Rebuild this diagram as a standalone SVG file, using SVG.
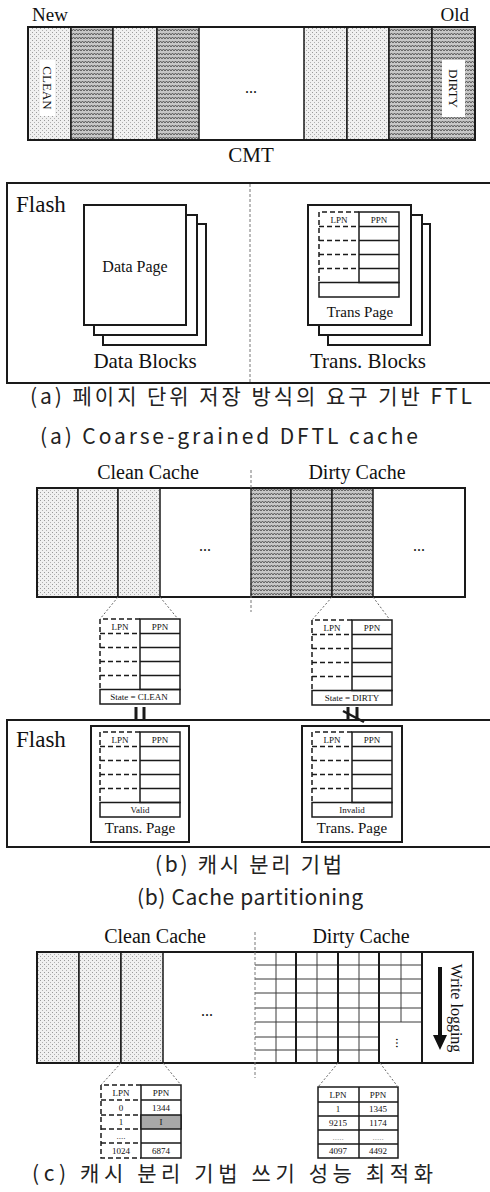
<svg xmlns="http://www.w3.org/2000/svg" xmlns:xlink="http://www.w3.org/1999/xlink" width="490" height="1192" viewBox="0 0 490 1192">
<style>
.t{font-family:"Liberation Serif",serif;fill:#111}
.k{font-family:"Noto Sans CJK KR","Noto Sans",sans-serif;fill:#222}
.box{fill:#fff;stroke:#1a1a1a;stroke-width:2}
.fr{fill:none;stroke:#1a1a1a;stroke-width:2}
.ln{fill:none;stroke:#1a1a1a;stroke-width:1.5}
.dsh{fill:none;stroke:#1a1a1a;stroke-width:1.5;stroke-dasharray:5 3}
.cd{fill:url(#dots);stroke:#1a1a1a;stroke-width:1.5}
.cw{fill:url(#wave);stroke:#1a1a1a;stroke-width:1.5}
.dv{stroke:#777;stroke-width:1;stroke-dasharray:3 2;fill:none}
.zm{stroke:#666;stroke-width:1;stroke-dasharray:2 2;fill:none}
.gl{stroke:#3a3a3a;stroke-width:1;fill:none}
.gt{stroke:#1a1a1a;stroke-width:2;fill:none}
</style>
<defs>
<pattern id="dots" width="4" height="4" patternUnits="userSpaceOnUse">
<rect width="4" height="4" fill="#f0f0f0"/>
<rect x="0" y="0" width="1" height="1" fill="#9a9a9a"/>
<rect x="2" y="2" width="1" height="1" fill="#b0b0b0"/>
</pattern>
<pattern id="wave" width="6" height="4" patternUnits="userSpaceOnUse">
<rect width="6" height="4" fill="#c8c8c8"/>
<path d="M0 3 L1.5 1 L3 3 L4.5 1 L6 3" fill="none" stroke="#4a4a4a" stroke-width="0.85"/>
</pattern>
<g id="tbl">
<rect x="40" y="0" width="40" height="70.5" class="ln"/>
<path d="M40 14.5H80M40 28.5H80M40 42.5H80M40 56.5H80" class="ln"/>
<rect x="0" y="70.5" width="80" height="14.5" class="ln"/>
<path d="M40 0H0V70.5M0 14.5H40M0 28.5H40M0 42.5H40M0 56.5H40" class="dsh"/>
<text x="20" y="11" font-size="9" text-anchor="middle" class="t">LPN</text>
<text x="60" y="11" font-size="9" text-anchor="middle" class="t">PPN</text>
</g>
</defs>
<rect width="490" height="1192" fill="#fff"/>

<!-- ===== (a) ===== -->
<g id="cmt">
<text x="32" y="21" font-size="19" class="t">New</text>
<text x="469" y="21" font-size="19" text-anchor="end" class="t">Old</text>
<rect x="28" y="27" width="447" height="113" class="box"/>
<rect x="28" y="27" width="43" height="113" class="cd"/>
<rect x="71" y="27" width="42" height="113" class="cw"/>
<rect x="113" y="27" width="44" height="113" class="cd"/>
<rect x="157" y="27" width="42" height="113" class="cw"/>
<rect x="304" y="27" width="43" height="113" class="cd"/>
<rect x="347" y="27" width="42" height="113" class="cd"/>
<rect x="389" y="27" width="43" height="113" class="cw"/>
<rect x="432" y="27" width="43" height="113" class="cw"/>
<rect x="28" y="27" width="447" height="113" class="fr"/>
<rect x="40" y="60" width="15" height="56" fill="#fff"/>
<text transform="translate(47.5,88) rotate(90)" font-size="13" text-anchor="middle" dominant-baseline="central" class="t">CLEAN</text>
<rect x="442" y="60" width="23" height="57" fill="#fff"/>
<text transform="translate(453.5,88.5) rotate(90)" font-size="13" text-anchor="middle" dominant-baseline="central" class="t">DIRTY</text>
<text x="251" y="93" font-size="16" text-anchor="middle" class="t">...</text>
<text x="251" y="162" font-size="21" text-anchor="middle" class="t">CMT</text>
</g>

<g id="flash-a">
<rect x="7" y="183" width="500" height="200" class="fr"/>
<line x1="250" y1="184" x2="250" y2="382" class="dv"/>
<text x="16" y="212" font-size="23" class="t">Flash</text>
</g>

<g id="data-blocks">
<rect x="103" y="224" width="103" height="121" class="box"/>
<rect x="94" y="215" width="103" height="120" class="box"/>
<rect x="84" y="205" width="102" height="120" class="box"/>
<text x="135" y="272" font-size="16" text-anchor="middle" class="t">Data Page</text>
<text x="145" y="368" font-size="21" text-anchor="middle" class="t">Data Blocks</text>
</g>

<g id="trans-blocks">
<rect x="328" y="224" width="102" height="121" class="box"/>
<rect x="319" y="215" width="103" height="120" class="box"/>
<rect x="308" y="205" width="103" height="120" class="box"/>
<use href="#tbl" x="319" y="212"/>
<text x="360" y="317" font-size="15" text-anchor="middle" class="t">Trans Page</text>
<text x="368" y="368" font-size="21" text-anchor="middle" class="t">Trans. Blocks</text>
</g>

<g id="caption-a">
<text x="30" y="404" font-size="21" textLength="442" lengthAdjust="spacing" class="k">(a) 페이지 단위 저장 방식의 요구 기반 FTL</text>
<text x="40" y="444" font-size="21" textLength="378" lengthAdjust="spacing" class="k">(a) Coarse-grained DFTL cache</text>
</g>

<!-- ===== (b) ===== -->
<g id="cache-b">
<text x="148" y="479" font-size="20" text-anchor="middle" class="t">Clean Cache</text>
<text x="357" y="479" font-size="20" text-anchor="middle" class="t">Dirty Cache</text>
<rect x="37" y="488" width="428" height="109" class="box"/>
<rect x="37" y="488" width="41" height="109" class="cd"/>
<rect x="78" y="488" width="40" height="109" class="cd"/>
<rect x="118" y="488" width="42" height="109" class="cd"/>
<rect x="251" y="488" width="40" height="109" class="cw"/>
<rect x="291" y="488" width="41" height="109" class="cw"/>
<rect x="332" y="488" width="41" height="109" class="cw"/>
<rect x="37" y="488" width="428" height="109" class="fr"/>
<text x="205" y="551" font-size="16" text-anchor="middle" class="t">...</text>
<text x="419" y="551" font-size="16" text-anchor="middle" class="t">...</text>
<line x1="251" y1="470" x2="251" y2="612" class="dv"/>
</g>

<g id="clean-entry-b">
<use href="#tbl" x="100" y="619"/>
<text x="139" y="700" font-size="9" text-anchor="middle" class="t">State = CLEAN</text>
</g>
<g id="dirty-entry-b">
<use href="#tbl" x="312" y="620"/>
<text x="352" y="701" font-size="9" text-anchor="middle" class="t">State = DIRTY</text>
</g>

<g id="flash-b">
<rect x="7" y="720" width="500" height="127" class="fr"/>
<text x="16" y="747" font-size="23" class="t">Flash</text>
</g>
<g id="valid-page">
<rect x="91" y="726" width="98" height="116" class="box"/>
<use href="#tbl" x="100" y="732"/>
<text x="140" y="813" font-size="9" text-anchor="middle" class="t">Valid</text>
<text x="140" y="833" font-size="15" text-anchor="middle" class="t">Trans. Page</text>
</g>
<g id="invalid-page">
<rect x="302" y="726" width="100" height="116" class="box"/>
<use href="#tbl" x="312" y="732"/>
<text x="352" y="813" font-size="9" text-anchor="middle" class="t">Invalid</text>
<text x="352" y="833" font-size="15" text-anchor="middle" class="t">Trans. Page</text>
</g>

<g id="caption-b">
<text x="155" y="872" font-size="21" textLength="187" lengthAdjust="spacing" class="k">(b) 캐시 분리 기법</text>
<text x="137" y="905" font-size="21" textLength="226" lengthAdjust="spacing" class="k">(b) Cache partitioning</text>
</g>

<!-- ===== (c) ===== -->
<g id="cache-c">
<text x="155" y="943" font-size="20" text-anchor="middle" class="t">Clean Cache</text>
<text x="361" y="943" font-size="20" text-anchor="middle" class="t">Dirty Cache</text>
<rect x="37" y="952" width="436" height="111" class="box"/>
<rect x="37" y="952" width="42" height="111" class="cd"/>
<rect x="79" y="952" width="42" height="111" class="cd"/>
<rect x="121" y="952" width="42" height="111" class="cd"/>
<text x="207" y="1016" font-size="16" text-anchor="middle" class="t">...</text>
<path d="M255 965H422M255 979H422M255 993H422M255 1008H422M255 1022H422M255 1037H379M255 1050H379" class="gl"/>
<path d="M276 952V1063M317 952V1063M359 952V1063M401 952V1022" class="gl"/>
<path d="M296 952V1063M338 952V1063M379 952V1063M422 952V1063" class="gt"/>
<text transform="translate(400,1043) rotate(90)" font-size="14" text-anchor="middle" dominant-baseline="central" class="t">...</text>
<rect x="37" y="952" width="436" height="111" class="fr"/>
<line x1="255" y1="932" x2="255" y2="1078" class="dv"/>
</g>

<g id="write-logging">
<text transform="translate(456,1008) rotate(90)" font-size="16" text-anchor="middle" dominant-baseline="central" class="t">Write logging</text>
</g>

<g id="clean-table-c">
<rect x="141" y="1085" width="40" height="73" class="ln"/>
<rect x="141" y="1115" width="40" height="14" fill="#a8a8a8" stroke="#1a1a1a" stroke-width="1.5"/>
<path d="M141 1100H181M141 1143H181" class="ln"/>
<path d="M141 1085H101V1158H141M101 1100H141M101 1115H141M101 1129H141M101 1143H141" class="dsh"/>
<g font-size="9" text-anchor="middle" class="t">
<text x="121" y="1096">LPN</text><text x="161" y="1096">PPN</text>
<text x="121" y="1111">0</text><text x="161" y="1111">1344</text>
<text x="121" y="1125">1</text><text x="161" y="1125">I</text>
<text x="121" y="1139">....</text>
<text x="121" y="1154">1024</text><text x="161" y="1154">6874</text>
</g>
</g>

<g id="dirty-table-c">
<rect x="318" y="1087" width="80" height="71" class="ln"/>
<path d="M359 1087V1158M318 1102H398M318 1116H398M318 1130H398M318 1144H398" class="ln"/>
<g font-size="9" text-anchor="middle" class="t">
<text x="338" y="1098">LPN</text><text x="378" y="1098">PPN</text>
<text x="338" y="1112">1</text><text x="378" y="1112">1345</text>
<text x="338" y="1126">9215</text><text x="378" y="1126">1174</text>
<text x="338" y="1140" fill="#888">.....</text><text x="378" y="1140" fill="#888">.....</text>
<text x="338" y="1154">4097</text><text x="378" y="1154">4492</text>
</g>
</g>

<g id="caption-c">
<text x="32" y="1181" font-size="21" textLength="401" lengthAdjust="spacing" class="k">(c) 캐시 분리 기법 쓰기 성능 최적화</text>
</g>

<g id="connectors">
<path d="M118 597L100 619M160 597L178 619M332 597L312 620M373 597L390 620" class="zm"/>
<path d="M136 707V721M144 707V721" stroke="#1a1a1a" stroke-width="3"/>
<path d="M348 707V721M357 707V721" stroke="#1a1a1a" stroke-width="3"/>
<path d="M343 711L364 722" stroke="#1a1a1a" stroke-width="2.5"/>
<path d="M121 1063L101 1085M163 1063L181 1085M338 1063L318 1087M380 1063L398 1087" class="zm"/>
<line x1="440" y1="967" x2="440" y2="1037" stroke="#111" stroke-width="4"/>
<polygon points="433,1035 447,1035 440,1050" fill="#111"/>
</g>
</svg>
